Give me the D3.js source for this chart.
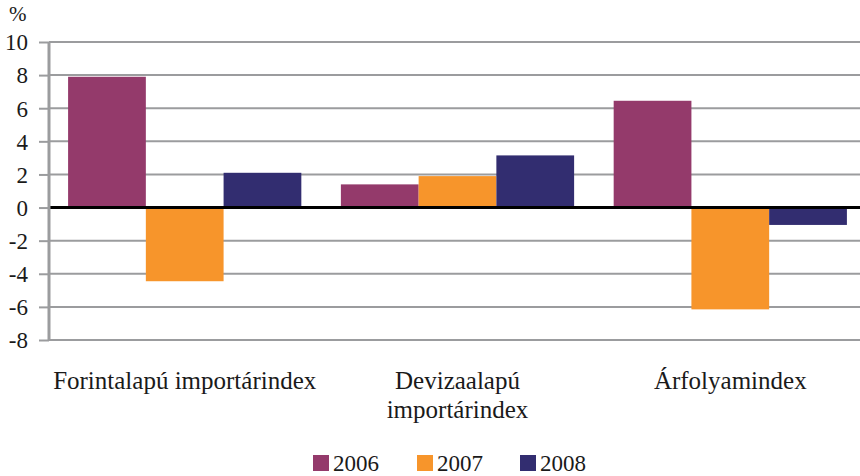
<!DOCTYPE html>
<html><head><meta charset="utf-8">
<script src="https://cdn.jsdelivr.net/npm/d3@7"></script>
<style>body{margin:0;background:#fff}svg{display:block}svg text{font-family:"Liberation Serif","Times New Roman","DejaVu Serif",serif !important;fill:#1a1a1a}</style>
</head><body>
<svg id="c" width="860" height="476"></svg>
<script>
const categories = [["Forintalapú importárindex"], ["Devizaalapú", "importárindex"], ["Árfolyamindex"]];
const seriesNames = ["2006", "2007", "2008"];
const values2006 = [7.9, 1.4, 6.45];
const values2007 = [-4.45, 1.9, -6.15];
const values2008 = [2.1, 3.15, -1.05];
const yTicks = [-8, -6, -4, -2, 0, 2, 4, 6, 8, 10];
const colors = ["#943a6b", "#f7952b", "#322d70"];

const series = [values2006, values2007, values2008];
const svg = d3.select("#c");
const mLeft = 49, mRight = 866, gridRight = 860, mTop = 42, mBottom = 340;

const x = d3.scaleBand().domain(d3.range(categories.length)).range([mLeft, mRight]).paddingInner(0.145).paddingOuter(0.07);
const xs = d3.scaleBand().domain(d3.range(series.length)).range([0, x.bandwidth()]);
const y = d3.scaleLinear().domain([-8, 10]).range([mBottom, mTop]);

// gridlines
svg.append("g").selectAll("line").data(yTicks.filter(d => d !== 0)).join("line")
  .attr("x1", mLeft).attr("x2", gridRight).attr("y1", d => y(d)).attr("y2", d => y(d))
  .attr("stroke", "#9b9c9e").attr("stroke-width", 2);

// bars
series.forEach((vals, si) => {
  svg.append("g").selectAll("rect").data(vals).join("rect")
    .attr("x", (d, i) => x(i) + xs(si))
    .attr("width", xs.bandwidth())
    .attr("y", d => y(Math.max(0, d)))
    .attr("height", d => Math.abs(y(d) - y(0)))
    .attr("fill", colors[si]);
});

// zero line
svg.append("line").attr("x1", mLeft).attr("x2", gridRight).attr("y1", y(0)).attr("y2", y(0))
  .attr("stroke", "#000").attr("stroke-width", 3);

// y axis
const yAxis = d3.axisLeft(y).tickValues(yTicks).tickSize(10).tickPadding(11).tickFormat(d => String(d));
const ga = svg.append("g").attr("transform", `translate(${mLeft},0)`).call(yAxis);
ga.attr("font-family", null);
ga.select(".domain").attr("stroke", "#9b9c9e").attr("stroke-width", 3).attr("d", `M0,${mTop}V${mBottom+1}`);
ga.selectAll(".tick line").attr("stroke", "#9b9c9e").attr("stroke-width", 2);
ga.selectAll(".tick text").style("font-size", "23px").attr("fill", "#1a1a1a").attr("dy", "0.34em");

svg.append("text").attr("x", 9).attr("y", 21).style("font-size", "21px").text("%");

// category labels
categories.forEach((lines, i) => {
  const t = svg.append("text").attr("text-anchor", "middle").style("font-size", "25px");
  lines.forEach((l, j) => t.append("tspan").attr("x", x(i) + x.bandwidth() / 2).attr("y", 389 + j * 29).text(l));
});

// legend
const legX = [313, 417, 520];
seriesNames.forEach((n, i) => {
  svg.append("rect").attr("x", legX[i]).attr("y", 455).attr("width", 16).attr("height", 16).attr("fill", colors[i]);
  svg.append("text").attr("x", legX[i] + 20).attr("y", 471).style("font-size", "23px").text(n);
});
</script>
</body></html>
